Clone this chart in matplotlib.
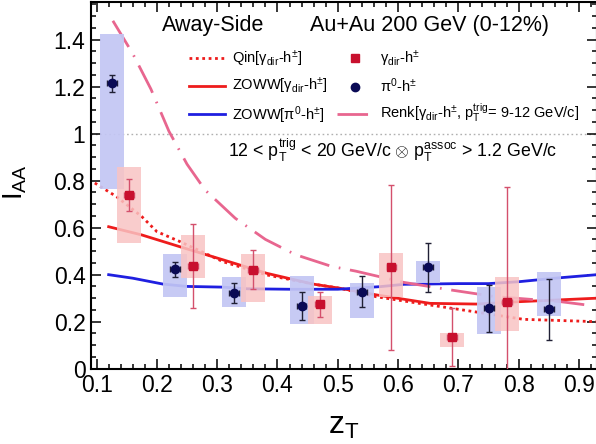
import matplotlib
matplotlib.use("Agg")
import matplotlib.pyplot as plt
from matplotlib.patches import Rectangle
from matplotlib.ticker import MultipleLocator, FuncFormatter

plt.rcParams['font.family'] = ['Liberation Sans', 'DejaVu Sans']
plt.rcParams['mathtext.fontset'] = 'custom'
plt.rcParams['mathtext.rm'] = 'Liberation Sans'
plt.rcParams['mathtext.it'] = 'Liberation Sans:italic'
plt.rcParams['mathtext.bf'] = 'Liberation Sans:bold'

# ---- data: pi0-h ----
pi_z = [0.125, 0.230, 0.328, 0.440, 0.540, 0.650, 0.751, 0.850]
pi_y = [1.214, 0.423, 0.323, 0.267, 0.328, 0.431, 0.257, 0.253]
pi_err = [0.037, 0.033, 0.042, 0.060, 0.065, 0.104, 0.101, 0.130]
pi_sys_lo = [0.763, 0.304, 0.264, 0.190, 0.214, 0.366, 0.148, 0.224]
pi_sys_hi = [1.423, 0.487, 0.389, 0.396, 0.363, 0.460, 0.349, 0.413]

# ---- data: gamma_dir-h ----
g_z = [0.154, 0.260, 0.359, 0.470, 0.589, 0.690, 0.781]
g_y = [0.739, 0.437, 0.420, 0.275, 0.431, 0.134, 0.283]
g_err = [0.068, 0.180, 0.083, 0.053, 0.350, 0.123, 0.489]
g_sys_lo = [0.534, 0.385, 0.283, 0.190, 0.306, 0.091, 0.162]
g_sys_hi = [0.857, 0.569, 0.487, 0.309, 0.494, 0.153, 0.389]

zerr = 0.008
box_half = 0.02

# ---- theory curves ----
zoww_pi_z = [0.12, 0.16, 0.21, 0.25, 0.31, 0.35, 0.42, 0.50, 0.57, 0.61, 0.70, 0.75, 0.80, 0.86, 0.93]
zoww_pi_y = [0.400, 0.385, 0.360, 0.350, 0.347, 0.340, 0.338, 0.338, 0.349, 0.359, 0.362, 0.362, 0.370, 0.385, 0.400]

zoww_g_z = [0.12, 0.175, 0.238, 0.31, 0.382, 0.459, 0.504, 0.564, 0.653, 0.73, 0.80, 0.93]
zoww_g_y = [0.604, 0.569, 0.519, 0.463, 0.406, 0.360, 0.342, 0.314, 0.278, 0.275, 0.285, 0.300]

qin_z = [0.097, 0.133, 0.175, 0.20, 0.238, 0.31, 0.382, 0.459, 0.504, 0.564, 0.653, 0.725, 0.808, 0.93]
qin_y = [0.790, 0.732, 0.647, 0.583, 0.541, 0.455, 0.399, 0.360, 0.342, 0.306, 0.271, 0.243, 0.210, 0.200]

renk_z = [0.127, 0.16, 0.19, 0.22, 0.25, 0.28, 0.33, 0.38, 0.43, 0.49, 0.53, 0.61, 0.69, 0.76, 0.87, 0.91]
renk_y = [1.48, 1.34, 1.19, 1.01, 0.87, 0.76, 0.64, 0.55, 0.485, 0.435, 0.415, 0.367, 0.334, 0.307, 0.285, 0.272]

x_ticks = [0.1, 0.2, 0.3, 0.4, 0.5, 0.6, 0.7, 0.8, 0.9]
y_ticks = [0, 0.2, 0.4, 0.6, 0.8, 1.0, 1.2, 1.4]

# ---- colours ----
c_red = '#ee1c1c'
c_blue = '#1f1fe0'
c_pink = '#e8668f'
c_g = '#c8102e'
c_pi = '#0a0a55'
c_gbox = '#f9c3c3'
c_pibox = '#c3c6f4'

fig = plt.figure(figsize=(5.96, 4.44), dpi=100)
ax = fig.add_axes([91/596, 1-368.7/444, 506/596, 366.7/444])
ax.set_xlim(0.0907, 0.930)
ax.set_ylim(0, 1.560)

ax.axhline(1.0, color='#b0b0b0', lw=1.0, ls=(0, (1.2, 2.0)), zorder=1)

l_qin, = ax.plot(qin_z, qin_y, color=c_red, lw=2.0, ls=(0, (1.0, 1.3)), zorder=2)
l_zg, = ax.plot(zoww_g_z, zoww_g_y, color=c_red, lw=2.0, zorder=2)
l_zpi, = ax.plot(zoww_pi_z, zoww_pi_y, color=c_blue, lw=2.0, zorder=2)
l_renk, = ax.plot(renk_z, renk_y, color=c_pink, lw=2.0, ls=(0, (11, 3.5, 0.6, 3.5)), zorder=2)

for z, lo, hi in zip(pi_z, pi_sys_lo, pi_sys_hi):
    ax.add_patch(Rectangle((z - box_half, lo), 2*box_half, hi - lo,
                           facecolor=c_pibox, edgecolor='none', alpha=0.92, zorder=3))
for z, lo, hi in zip(g_z, g_sys_lo, g_sys_hi):
    ax.add_patch(Rectangle((z - box_half, lo), 2*box_half, hi - lo,
                           facecolor=c_gbox, edgecolor='none', alpha=0.85, zorder=3))

ax.errorbar(pi_z, pi_y, yerr=pi_err, xerr=zerr, fmt='none', ecolor='#202035',
            elinewidth=1.0, capsize=2.5, capthick=1.0, zorder=4)
ax.errorbar(g_z, g_y, yerr=g_err, xerr=zerr, fmt='none', ecolor='#d4506c',
            elinewidth=1.0, capsize=2.5, capthick=1.0, zorder=4)
m_pi, = ax.plot(pi_z, pi_y, 'o', color=c_pi, ms=6, ls='none', zorder=5)
m_g, = ax.plot(g_z, g_y, 's', color=c_g, ms=6, ls='none', zorder=5)

# ticks
ax.xaxis.set_major_locator(plt.FixedLocator(x_ticks))
ax.yaxis.set_major_locator(plt.FixedLocator(y_ticks))
ax.xaxis.set_minor_locator(MultipleLocator(0.02))
ax.yaxis.set_minor_locator(MultipleLocator(0.05))
fmt = FuncFormatter(lambda v, p: '%g' % round(v, 3))
ax.xaxis.set_major_formatter(fmt)
ax.yaxis.set_major_formatter(fmt)
ax.tick_params(which='both', direction='in', top=True, right=True, width=1.1)
ax.tick_params(which='major', length=7, labelsize=16.5)
ax.tick_params(axis='x', which='major', pad=4)
ax.tick_params(axis='y', which='major', pad=4)
ax.tick_params(which='minor', length=3.5)
for s in ax.spines.values():
    s.set_linewidth(1.5)

ax.set_xlabel('z$_{\\rm T}$', fontsize=23)
ax.xaxis.set_label_coords(0.50, -0.114)
ax.set_ylabel('I$_{\\rm AA}$', fontsize=20)
ax.yaxis.set_label_coords(-0.122, 0.51)

# texts
ax.text(0.140, 0.936, 'Away-Side', transform=ax.transAxes, fontsize=15.5, va='center', ha='left')
ax.text(0.433, 0.936, 'Au+Au 200 GeV (0-12%)', transform=ax.transAxes, fontsize=15.5, va='center', ha='left')
ax.text(0.271, 0.596, '12 < p$_{\\rm T}^{\\rm trig}$ < 20 GeV/c $\\otimes$ p$_{\\rm T}^{\\rm assoc}$ > 1.2 GeV/c',
        transform=ax.transAxes, fontsize=12.8, va='center', ha='left')

handles = [l_qin, l_zg, l_zpi, m_g, m_pi, l_renk]
labels = ['Qin[γ$_{\\rm dir}$-h$^{\\pm}$]', 'ZOWW[γ$_{\\rm dir}$-h$^{\\pm}$]',
          'ZOWW[π$^{0}$-h$^{\\pm}$]', 'γ$_{\\rm dir}$-h$^{\\pm}$', 'π$^{0}$-h$^{\\pm}$',
          'Renk[γ$_{\\rm dir}$-h$^{\\pm}$, p$_{\\rm T}^{\\rm trig}$= 9-12 GeV/c]']
ax.legend(handles, labels, ncol=2, frameon=False, fontsize=10.5, loc='upper left',
          bbox_to_anchor=(0.193, 0.874), handlelength=2.5, handletextpad=0.45,
          columnspacing=0.7, labelspacing=0.52, borderpad=0, borderaxespad=0)

fig.savefig('out.png', dpi=100)
